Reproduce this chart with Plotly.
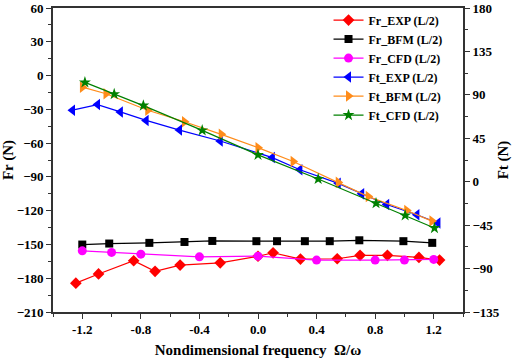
import plotly.graph_objects as go

# Fr (left axis, N)
fr_exp_x = [-1.244, -1.089, -0.849, -0.703, -0.532, -0.258, 0.0, 0.103, 0.29, 0.541, 0.697, 0.884, 1.099, 1.24]
fr_exp_y = [-184.4, -176.2, -164.5, -173.9, -168.3, -166.3, -160.5, -157.4, -163.0, -162.7, -159.7, -159.7, -161.5, -163.9]

fr_bfm_x = [-1.2, -1.016, -0.742, -0.502, -0.312, -0.011, 0.13, 0.32, 0.49, 0.692, 0.993, 1.19]
fr_bfm_y = [-150.1, -149.2, -148.6, -147.8, -146.9, -147.1, -147.1, -147.1, -147.1, -146.3, -147.1, -148.6]

fr_cfd_x = [-1.2, -1.0, -0.8, -0.4, 0.0, 0.4, 0.8, 1.0, 1.2]
fr_cfd_y = [-155.7, -157.1, -158.6, -161.0, -160.4, -163.9, -163.9, -163.9, -163.3]

# Ft (right axis, N)
ft_exp_x = [-1.267, -1.096, -0.94, -0.764, -0.536, -0.258, 0.098, 0.286, 0.548, 0.708, 0.879, 1.085, 1.229]
ft_exp_y = [74.1, 79.9, 72.3, 63.5, 53.5, 42.2, 25.0, 12.4, -1.7, -12.6, -23.6, -34.2, -42.8]

ft_bfm_x = [-1.199, -1.038, -0.753, -0.502, -0.251, 0.0, 0.24, 0.548, 0.753, 1.016, 1.188]
ft_bfm_y = [98.0, 91.2, 74.1, 62.1, 49.1, 35.3, 20.9, -0.7, -15.4, -29.8, -40.8]

ft_cfd_x = [-1.182, -0.982, -0.783, -0.381, 0.0, 0.411, 0.806, 1.005, 1.205]
ft_cfd_y = [102.9, 90.8, 78.9, 53.2, 27.8, 2.8, -22.3, -34.9, -48.0]

x_ticks = [-1.2, -0.8, -0.4, 0.0, 0.4, 0.8, 1.2]
x_tick_labels = ["-1.2", "-0.8", "-0.4", "0.0", "0.4", "0.8", "1.2"]

FONT = "Liberation Serif, Times New Roman, serif"

fig = go.Figure()

def add(x, y, name, color, symbol, yaxis, size=8):
    fig.add_trace(go.Scatter(
        x=x, y=y, name="<b>" + name + "</b>", mode="lines+markers", yaxis=yaxis,
        line=dict(color=color, width=1.2),
        marker=dict(color=color, symbol=symbol, size=size),
    ))

add(fr_exp_x, fr_exp_y, "Fr_EXP (L/2)", "#FF0000", "diamond", "y", 9)
add(fr_bfm_x, fr_bfm_y, "Fr_BFM (L/2)", "#000000", "square", "y", 8)
add(fr_cfd_x, fr_cfd_y, "Fr_CFD (L/2)", "#FF00FF", "circle", "y", 9)
add(ft_exp_x, ft_exp_y, "Ft_EXP (L/2)", "#0000FF", "triangle-left", "y2", 10)
add(ft_bfm_x, ft_bfm_y, "Ft_BFM (L/2)", "#FF8C1A", "triangle-right", "y2", 10)
add(ft_cfd_x, ft_cfd_y, "Ft_CFD (L/2)", "#008000", "star", "y2", 9)

axis_font = dict(family=FONT, size=13, color="black")
title_font = dict(family=FONT, size=15, color="black")

fig.update_layout(
    width=512, height=363,
    margin=dict(l=53, r=49, t=6, b=51),
    paper_bgcolor="white", plot_bgcolor="white",
    font=dict(family=FONT, color="black"),
    showlegend=True,
    legend=dict(
        x=0.672, y=1.008, xanchor="left", yanchor="top",
        bgcolor="rgba(0,0,0,0)", borderwidth=0,
        font=dict(family=FONT, size=12, color="black"),
        tracegroupgap=0, itemwidth=30,
    ),
    xaxis=dict(
        range=[-1.4, 1.4], tickvals=x_ticks, ticktext=["<b>" + t + "</b>" for t in x_tick_labels],
        ticks="outside", ticklen=5, tickwidth=1.2, tickcolor="#333",
        minor=dict(ticks="outside", ticklen=3, dtick=0.2, tick0=0, tickcolor="#333"),
        showline=True, linecolor="#333", linewidth=1.6, mirror=True,
        showgrid=False, zeroline=False, automargin=False, ticklabeloverflow="allow",
        tickfont=axis_font,
        title=dict(text="<b>Nondimensional frequency&nbsp;&nbsp;Ω/ω</b>", font=title_font, standoff=8),
    ),
    yaxis=dict(
        range=[-210, 60], dtick=30, tick0=0,
        ticks="outside", ticklen=5, tickwidth=1.2, tickcolor="#333",
        minor=dict(ticks="outside", ticklen=3, dtick=15, tick0=0, tickcolor="#333"),
        showline=True, linecolor="#333", linewidth=1.6,
        showgrid=False, zeroline=False, automargin=False, ticklabeloverflow="allow",
        tickfont=axis_font, tickprefix="<b>", ticksuffix="</b>",
        title=dict(text="<b>Fr (N)</b>", font=title_font, standoff=3),
    ),
    yaxis2=dict(
        range=[-135, 180], dtick=45, tick0=0, overlaying="y", side="right",
        ticks="outside", ticklen=5, tickwidth=1.2, tickcolor="#333",
        minor=dict(ticks="outside", ticklen=3, dtick=22.5, tick0=0, tickcolor="#333"),
        showline=True, linecolor="#333", linewidth=1.6,
        showgrid=False, zeroline=False, automargin=False, ticklabeloverflow="allow",
        tickfont=axis_font, tickprefix="<b>", ticksuffix="</b>",
        title=dict(text="<b>Ft (N)</b>", font=title_font, standoff=4),
    ),
)

fig.write_html("out.html", config={"displayModeBar": False},
               post_script="document.body.style.margin='0';")
